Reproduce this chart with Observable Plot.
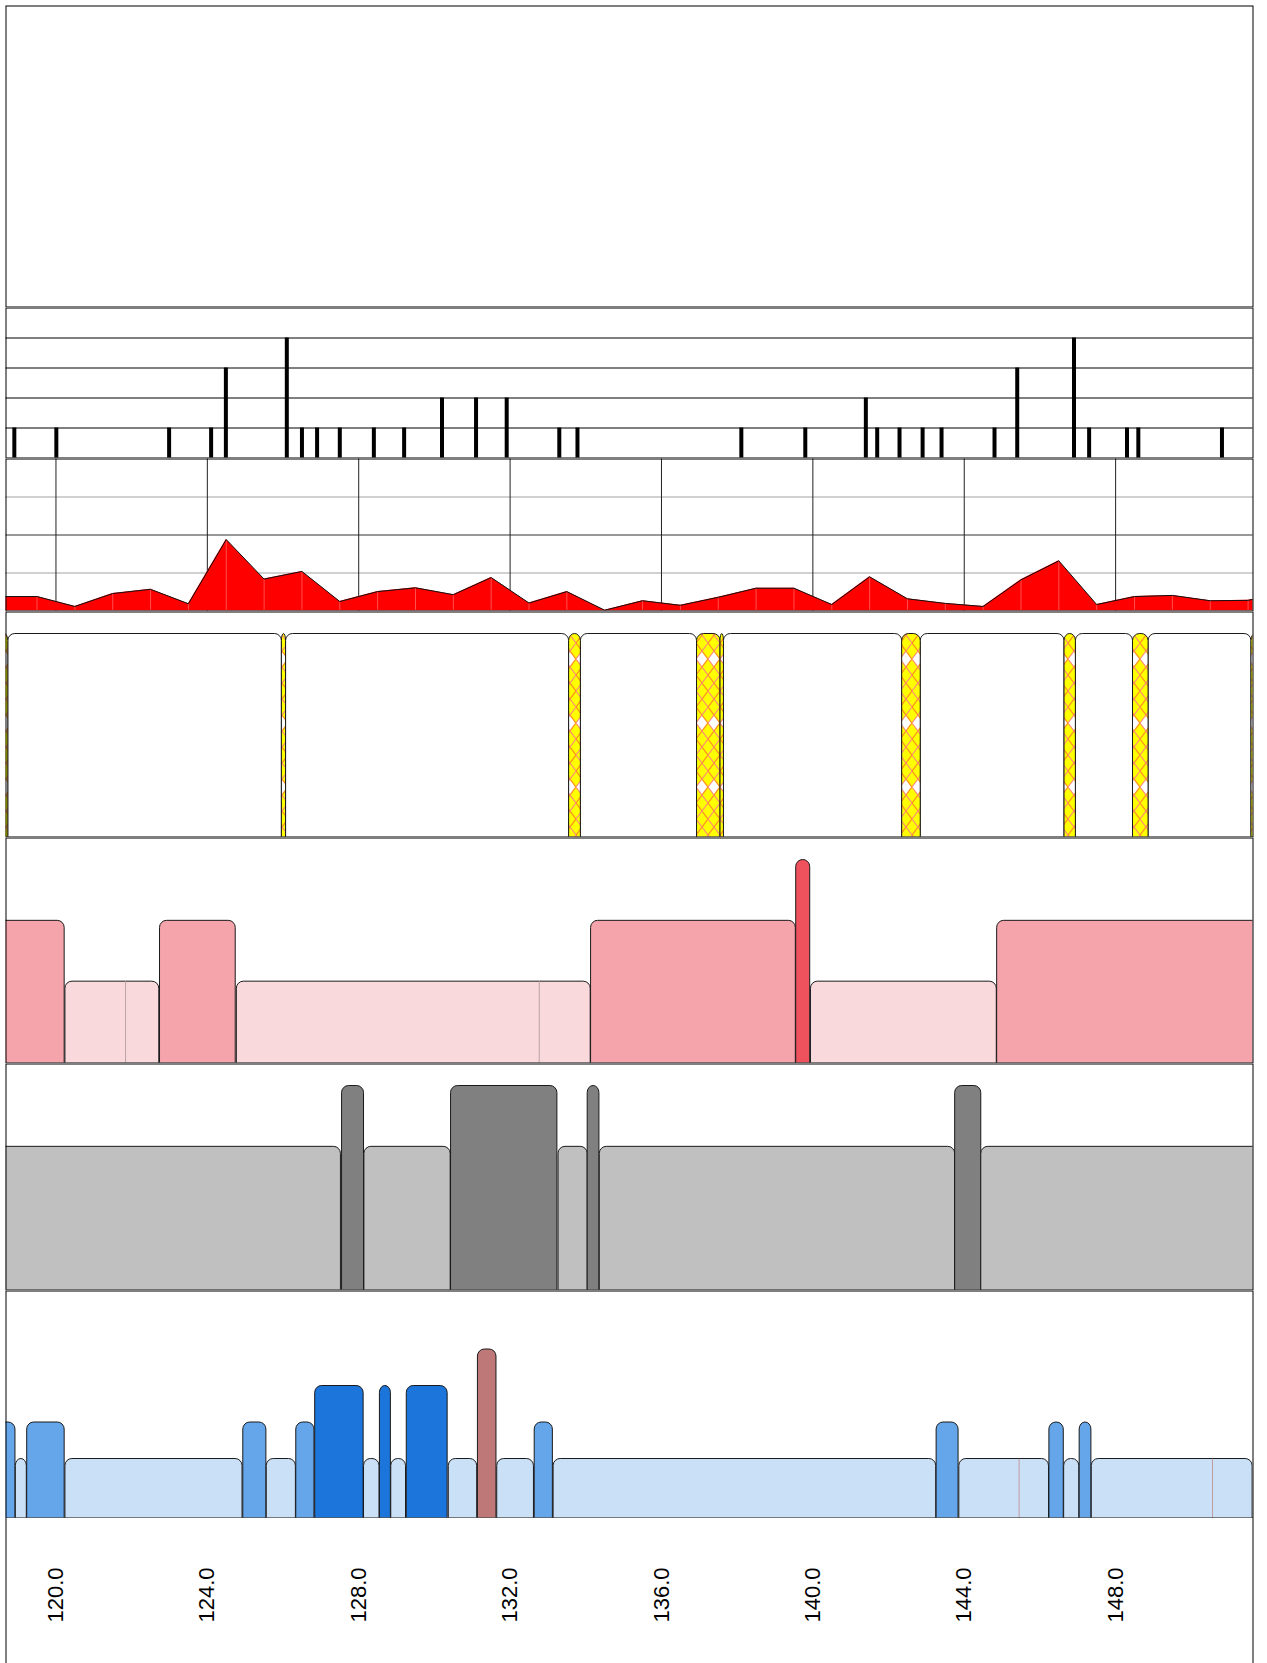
<!DOCTYPE html>
<html><head><meta charset="utf-8">
<script src="https://cdn.jsdelivr.net/npm/d3@7"></script>
<script src="https://cdn.jsdelivr.net/npm/@observablehq/plot@0.6"></script>
<style>
html,body{margin:0;padding:0;background:#fff;overflow:hidden;}
#chart svg{display:block;}
</style></head><body><div id="chart"></div>
<script>
// ---- data ----
const xDomain = [118.68, 151.63];
const axisTicks = [120, 124, 128, 132, 136, 140, 144, 148];

// tick (count) track
const tickPos = [118.9, 120.01, 122.99, 124.10, 124.49, 126.10, 126.5, 126.9, 127.5, 128.4, 129.2, 130.2, 131.1, 131.91, 133.3, 133.78,
  138.11, 139.8, 141.4, 141.7, 142.29, 142.9, 143.4, 144.8, 145.4, 146.9, 147.3, 148.3, 148.6, 150.81];
const tickLevel = [1, 1, 1, 1, 3, 4, 1, 1, 1, 1, 1, 2, 2, 2, 1, 1,
  1, 1, 2, 1, 1, 1, 1, 1, 3, 4, 1, 1, 1, 1];

// red area track
const redX = [118.5, 119.5, 120.5, 121.5, 122.5, 123.5, 124.5, 125.5, 126.5, 127.5, 128.5, 129.5, 130.5, 131.5, 132.5, 133.5, 134.5,
  135.5, 136.5, 137.5, 138.5, 139.5, 140.5, 141.5, 142.5, 143.5, 144.5, 145.5, 146.5, 147.5, 148.5, 149.5, 150.5, 151.5, 152.5];
const redY = [0.38, 0.38, 0.12, 0.46, 0.57, 0.19, 1.88, 0.84, 1.04, 0.25, 0.51, 0.61, 0.43, 0.88, 0.21, 0.51, 0.02,
  0.27, 0.15, 0.36, 0.6, 0.6, 0.17, 0.9, 0.32, 0.2, 0.12, 0.82, 1.32, 0.17, 0.38, 0.41, 0.27, 0.28, 0.5];

// hatched / white segment track
const whiteStart = [118.74, 126.08, 133.87, 137.65, 142.85, 146.95, 148.87];
const whiteEnd   = [125.97, 133.56, 136.94, 142.36, 146.65, 148.46, 151.59];
const hatchStart = [118.55, 125.97, 133.56, 136.94, 137.56, 142.36, 146.65, 148.46, 151.59];
const hatchEnd   = [118.74, 126.08, 133.87, 137.56, 137.65, 142.85, 146.95, 148.87, 151.8];

// pink segment track
const pinkStart = [118.4, 120.25, 122.75, 124.78, 134.14, 139.56, 139.95, 144.87];
const pinkEnd   = [120.23, 122.73, 124.75, 134.13, 139.55, 139.93, 144.86, 152.0];
const pinkLevel = [2, 1, 2, 1, 2, 3, 1, 2];
const pinkSeams = [121.84, 132.77];
const pinkSeamLevel = [1, 1];

// gray segment track
const grayStart = [118.4, 127.56, 128.15, 130.44, 133.28, 134.05, 134.37, 143.76, 144.45];
const grayEnd   = [127.53, 128.14, 130.43, 133.25, 134.05, 134.36, 143.76, 144.45, 152.0];
const grayLevel = [2, 3, 2, 3, 2, 3, 2, 3, 2];

// blue segment track
const blueStart = [118.4, 118.94, 119.24, 120.25, 124.95, 125.57, 126.35, 126.85, 128.14, 128.56, 128.86, 129.27, 130.38, 131.15, 131.66, 132.65, 133.15, 143.27, 143.87, 146.25, 146.64, 147.05, 147.37];
const blueEnd   = [118.93, 119.23, 120.23, 124.93, 125.56, 126.34, 126.83, 128.13, 128.55, 128.85, 129.25, 130.35, 131.13, 131.64, 132.63, 133.13, 143.26, 143.85, 146.24, 146.63, 147.04, 147.36, 151.62];
const blueLevel = [2, 1, 2, 1, 2, 1, 2, 3, 1, 3, 1, 3, 1, 4, 1, 2, 1, 2, 1, 2, 1, 2, 1];
const blueSeams = [145.45, 150.56];
const blueSeamLevel = [1, 1];

// ---- colours ----
const pinkColors = {1: "#fad9dc", 2: "#f6a4ab", 3: "#ef515d"};
const grayColors = {2: "#c0c0c0", 3: "#808080"};
const blueColors = {1: "#cae0f7", 2: "#65a6ea", 3: "#1b75da", 4: "#bf7878"};

// ---- helpers ----
const W = 1267;
const FONT = "'Liberation Sans', Arial, sans-serif";
function panel(height, y, marks, opts = {}) {
  return Plot.plot({
    width: W, height,
    marginLeft: 5.5, marginRight: 14.5, marginTop: 0.5, marginBottom: 0.5,
    x: {domain: xDomain, axis: null},
    y: {axis: null, ...y},
    color: {type: "identity"},
    style: {background: "white", fontFamily: FONT},
    marks: [...marks, Plot.frame({stroke: "black", strokeWidth: 1})],
    ...opts
  });
}
const segs = (s, e, l, colors) => s.map((d, i) => ({start: d, end: e[i], level: l ? l[i] : 1, color: colors ? colors[l[i]] : "white"}));
const roundRects = (data, fill) => Plot.rect(data, {
  x1: "start", x2: "end", y1: -1, y2: "level", fill, stroke: "#1a1a1a", strokeWidth: 1, rx: 7, clip: true
});
const levelY = (n) => ({domain: [0, n], range: [205, 22.5]});

const chart = document.getElementById("chart");

// top empty panel
chart.append(panel(307, {domain: [0, 1]}, [], {marginTop: 5.5}));

// tick track
const ticks = tickPos.map((p, i) => ({pos: p, level: tickLevel[i]}));
chart.append(panel(151, {domain: [0, 5]}, [
  Plot.ruleY([1, 2, 3, 4], {stroke: "black", strokeWidth: 1}),
  Plot.ruleX(ticks, {x: "pos", y1: 0, y2: "level", stroke: "black", strokeWidth: 4})
]));

// red area track
const red = redX.map((x, i) => ({x, v: redY[i]}));
chart.append(panel(153, {domain: [0, 4]}, [
  Plot.ruleY([1, 3], {stroke: "#444", strokeDasharray: "1,1"}),
  Plot.ruleY([2], {stroke: "#333"}),
  Plot.ruleX(axisTicks, {stroke: "#222", strokeWidth: 1}),
  Plot.areaY(red, {x: "x", y: "v", fill: "#ff0000", clip: true}),
  Plot.ruleX(red, {x: "x", y1: 0, y2: "v", stroke: "#ff7070", strokeWidth: 0.7, clip: true}),
  Plot.lineY(red, {x: "x", y: "v", stroke: "#111", strokeWidth: 1, clip: true})
]));

// hatched track
const hatchSvg = panel(226, levelY(1), [
  roundRects(segs(whiteStart, whiteEnd), "white"),
  roundRects(segs(hatchStart, hatchEnd), "url(#hatch)")
]);
{
  const defs = d3.select(hatchSvg).insert("defs", ":first-child");
  const pat = defs.append("pattern").attr("id", "hatch").attr("patternUnits", "userSpaceOnUse")
    .attr("width", 12).attr("height", 64);
  pat.append("rect").attr("width", 12).attr("height", 64).attr("fill", "#ffff00");
  pat.append("path").attr("d", "M6,40L12,48L6,56L0,48Z").attr("fill", "white");
  pat.append("path").attr("d", "M0,0L12,16L0,32L12,48L0,64").attr("stroke", "#ff9520").attr("fill", "none").attr("stroke-width", 1.3);
  pat.append("path").attr("d", "M12,0L0,16L12,32L0,48L12,64").attr("stroke", "#ff8a7a").attr("fill", "none").attr("stroke-width", 1.1);
}
chart.append(hatchSvg);

// pink track
chart.append(panel(226, levelY(3), [
  roundRects(segs(pinkStart, pinkEnd, pinkLevel, pinkColors), "color"),
  Plot.ruleX(pinkSeams.map((p, i) => ({p, l: pinkSeamLevel[i]})), {x: "p", y1: -1, y2: "l", stroke: "#b9a3a3", strokeWidth: 1, clip: true})
]));

// gray track
chart.append(panel(227, levelY(3), [
  roundRects(segs(grayStart, grayEnd, grayLevel, grayColors), "color")
]));

// blue track
chart.append(panel(228, levelY(5), [
  roundRects(segs(blueStart, blueEnd, blueLevel, blueColors), "color"),
  Plot.ruleX(blueSeams.map((p, i) => ({p, l: blueSeamLevel[i]})), {x: "p", y1: -1, y2: "l", stroke: "#c08a8a", strokeWidth: 0.8, clip: true})
]));

// axis strip
chart.append(Plot.plot({
  width: W, height: 145,
  marginLeft: 5.5, marginRight: 14.5, marginTop: 0, marginBottom: 0,
  x: {domain: xDomain, axis: null},
  style: {background: "white", fontFamily: FONT},
  marks: [
    Plot.ruleX(xDomain, {stroke: "black", strokeWidth: 1}),
    Plot.text(axisTicks, {x: d => d, text: d => d.toFixed(1), frameAnchor: "top", dy: 49, rotate: -90,
      textAnchor: "end", lineAnchor: "middle", fontSize: 22, fill: "black"})
  ]
}));
</script></body></html>
